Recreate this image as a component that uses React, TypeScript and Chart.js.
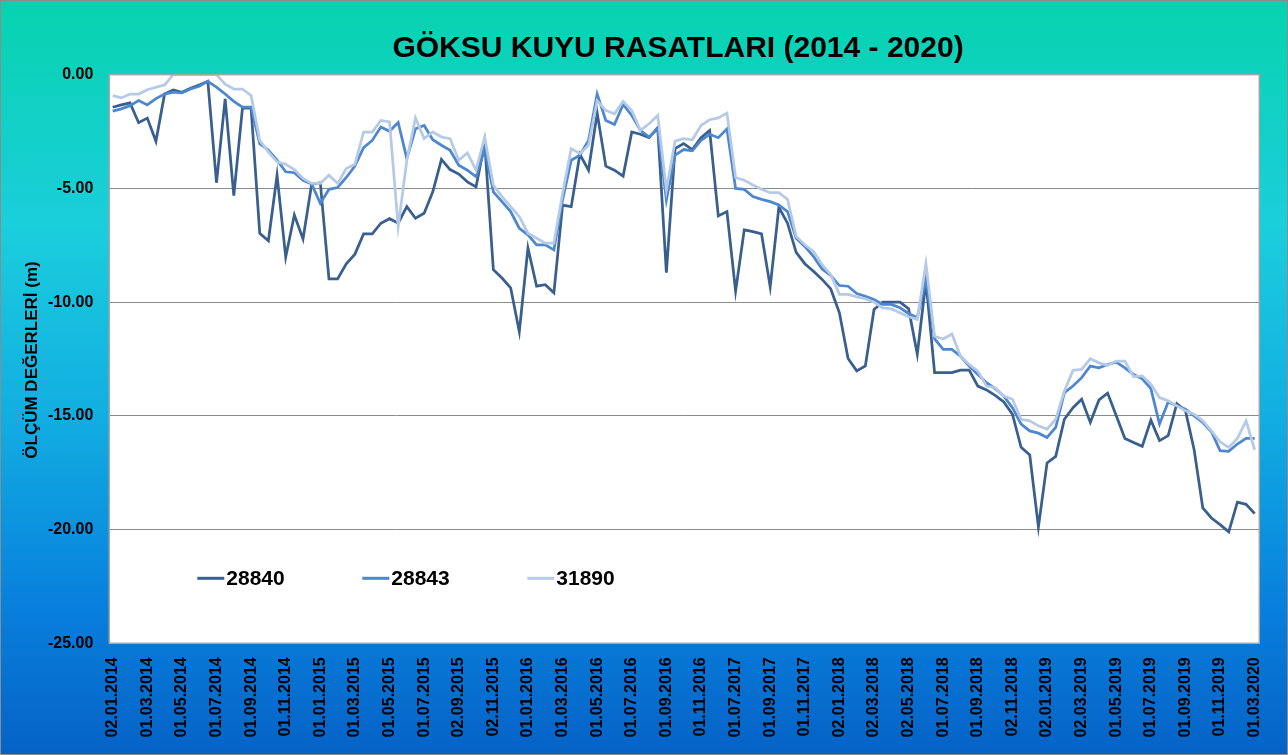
import { useEffect, useRef } from "react";
import { Chart, registerables } from "chart.js";

Chart.register(...registerables);

const chartTitle = "GÖKSU KUYU RASATLARI (2014 - 2020)";
const yAxisTitle = "ÖLÇÜM DEĞERLERİ (m)";

const tickLabels = [
  "02.01.2014", "01.03.2014", "01.05.2014", "01.07.2014", "01.09.2014", "01.11.2014",
  "01.01.2015", "01.03.2015", "01.05.2015", "01.07.2015", "02.09.2015", "02.11.2015",
  "01.01.2016", "01.03.2016", "01.05.2016", "01.07.2016", "01.09.2016", "01.11.2016",
  "01.07.2017", "01.09.2017", "01.11.2017", "02.01.2018", "02.03.2018", "02.05.2018",
  "01.07.2018", "01.09.2018", "02.11.2018", "02.01.2019", "02.03.2019", "01.05.2019",
  "01.07.2019", "01.09.2019", "01.11.2019", "01.03.2020",
];
const labelEvery = 4;

const seriesNames = ["28840", "28843", "31890"];
const seriesColors = ["#385F8E", "#4C87CF", "#B5CAE7"];

const series28840 = [
  -1.43, -1.33, -1.24, -2.11, -1.91, -2.93, -0.85, -0.67, -0.77, -0.6,
  -0.45, -0.29, -4.75, -1.06, -5.32, -1.47, -1.47, -6.97, -7.3, -4.42,
  -8.02, -6.17, -7.22, -4.81, -4.75, -8.98, -8.98, -8.31, -7.89, -7.0,
  -7.0, -6.53, -6.33, -6.53, -5.8, -6.31, -6.09, -5.15, -3.72, -4.17,
  -4.37, -4.71, -4.93, -3.0, -8.57, -8.94, -9.37, -11.3, -7.62, -9.3,
  -9.23, -9.59, -5.73, -5.8, -3.5, -4.2, -1.69, -4.02, -4.2, -4.46,
  -2.52, -2.62, -2.77, -2.33, -8.7, -3.25, -3.03, -3.29, -2.77, -2.45,
  -6.21, -6.02, -9.52, -6.82, -6.9, -7.0, -9.33, -5.83, -6.53, -7.81,
  -8.31, -8.64, -9.0, -9.42, -10.47, -12.48, -13.02, -12.8, -10.32, -10.0,
  -10.0, -10.0, -10.29, -12.29, -9.08, -13.1, -13.1, -13.1, -12.99, -12.99,
  -13.69, -13.86, -14.1, -14.39, -14.93, -16.38, -16.72, -19.88, -17.07, -16.78,
  -15.15, -14.64, -14.27, -15.29, -14.3, -14.0, -15.0, -15.99, -16.17, -16.34,
  -15.19, -16.09, -15.87, -14.46, -14.78, -16.49, -19.05, -19.49, -19.78, -20.1,
  -18.79, -18.89, -19.3,
];

const series28843 = [
  -1.6, -1.5, -1.36, -1.14, -1.33, -1.05, -0.85, -0.77, -0.8, -0.63,
  -0.51, -0.29, -0.55, -0.85, -1.17, -1.43, -1.43, -3.03, -3.32, -3.76,
  -4.27, -4.31, -4.64, -4.81, -5.66, -5.04, -4.96, -4.52, -4.02, -3.21,
  -2.89, -2.3, -2.49, -2.1, -3.69, -2.38, -2.23, -2.86, -3.1, -3.32,
  -3.98, -4.2, -4.49, -3.25, -5.15, -5.58, -6.02, -6.75, -7.04, -7.48,
  -7.48, -7.7, -5.51, -3.76, -3.54, -2.89, -0.85, -2.01, -2.19, -1.31,
  -1.79, -2.45, -2.74, -2.38, -5.51, -3.54, -3.29, -3.35, -2.89, -2.62,
  -2.77, -2.38, -5.0, -5.04, -5.36, -5.48, -5.58, -5.73, -6.02, -7.19,
  -7.55, -7.99, -8.54, -8.83, -9.27, -9.3, -9.62, -9.74, -9.88, -10.1,
  -10.1, -10.25, -10.5, -10.69, -9.0, -11.62, -12.08, -12.08, -12.38, -12.81,
  -13.18, -13.54, -13.8, -14.13, -14.64, -15.36, -15.66, -15.76, -15.95, -15.51,
  -13.98, -13.69, -13.32, -12.81, -12.89, -12.74, -12.64, -12.89, -13.18, -13.37,
  -13.8, -15.36, -14.39, -14.56, -14.71, -15.0, -15.29, -15.7, -16.53, -16.56,
  -16.24, -15.99, -15.99,
];

const series31890 = [
  -0.92, -1.02, -0.85, -0.85, -0.66, -0.55, -0.45, 0.0, 0.0, 0.0,
  0.0, 0.0, 0.0, -0.42, -0.63, -0.63, -0.92, -2.89, -3.4, -3.83,
  -3.94, -4.17, -4.56, -4.78, -4.78, -4.42, -4.78, -4.13, -3.94, -2.52,
  -2.52, -2.01, -2.08, -6.68, -3.76, -1.9, -2.81, -2.52, -2.74, -2.81,
  -3.76, -3.44, -4.2, -2.74, -4.85, -5.36, -5.8, -6.24, -6.97, -7.19,
  -7.41, -7.41, -5.22, -3.25, -3.47, -3.1, -1.14, -1.57, -1.72, -1.17,
  -1.57, -2.45, -2.16, -1.79, -5.07, -2.92, -2.81, -2.86, -2.23, -1.98,
  -1.9, -1.69, -4.52, -4.64, -4.85, -5.04, -5.19, -5.19, -5.48, -7.11,
  -7.48, -7.77, -8.35, -8.79, -9.66, -9.66, -9.77, -9.85, -10.0, -10.25,
  -10.29, -10.47, -10.64, -10.76, -8.31, -11.5, -11.62, -11.4, -12.38, -12.74,
  -13.03, -13.69, -13.76, -14.13, -14.27, -15.15, -15.22, -15.44, -15.58, -15.15,
  -13.91, -13.0, -12.96, -12.49, -12.67, -12.78, -12.59, -12.59, -13.28, -13.24,
  -13.61, -14.2, -14.34, -14.56, -14.78, -14.93, -15.22, -15.66, -16.14, -16.39,
  -15.99, -15.22, -16.49,
];

const allSeries = [series28840, series28843, series31890];

const W = 1288;
const H = 755;
const FONT = "'Liberation Sans', Arial, sans-serif";

export default function App() {
  const ref = useRef<HTMLCanvasElement | null>(null);

  useEffect(() => {
    document.body.style.margin = "0";
    const canvas = ref.current;
    if (!canvas) return;

    const decorPlugin = {
      id: "decor",
      beforeDraw(chart: any) {
        const { ctx, chartArea: a } = chart;
        ctx.save();
        const g = ctx.createLinearGradient(0, 0, 0, H);
        g.addColorStop(0, "#07D3AE");
        g.addColorStop(0.3, "#1BCEDC");
        g.addColorStop(0.55, "#12AEE2");
        g.addColorStop(0.8, "#0880DD");
        g.addColorStop(1, "#0562C6");
        ctx.fillStyle = g;
        ctx.fillRect(0, 0, W, H);
        ctx.fillStyle = "#ffffff";
        ctx.fillRect(a.left, a.top, a.right - a.left, a.bottom - a.top);
        ctx.restore();
      },
      afterDraw(chart: any) {
        const { ctx, chartArea: a } = chart;
        ctx.save();
        ctx.strokeStyle = "#A6A6A6";
        ctx.lineWidth = 1.5;
        ctx.strokeRect(a.left, a.top, a.right - a.left, a.bottom - a.top);
        ctx.strokeStyle = "#8C8C8C";
        ctx.lineWidth = 1;
        ctx.strokeRect(0.5, 0.5, W - 1, H - 1);
        ctx.fillStyle = "#000";
        ctx.font = `bold 30px ${FONT}`;
        ctx.textAlign = "center";
        ctx.textBaseline = "alphabetic";
        ctx.fillText(chartTitle, 678, 57);
        ctx.save();
        ctx.translate(32, 360);
        ctx.rotate(-Math.PI / 2);
        ctx.font = `bold 17px ${FONT}`;
        ctx.textAlign = "center";
        ctx.textBaseline = "middle";
        ctx.fillText(yAxisTitle, 0, 0);
        ctx.restore();
        const ly = a.bottom - 65;
        chart.data.datasets.forEach((ds: any, k: number) => {
          const lx = a.left + 88 + k * 165;
          ctx.strokeStyle = ds.borderColor;
          ctx.lineWidth = 3;
          ctx.beginPath();
          ctx.moveTo(lx, ly);
          ctx.lineTo(lx + 27, ly);
          ctx.stroke();
          ctx.fillStyle = "#000";
          ctx.font = `bold 21px ${FONT}`;
          ctx.textAlign = "left";
          ctx.textBaseline = "middle";
          ctx.fillText(ds.label, lx + 29, ly + 1);
        });
        ctx.restore();
      },
    };

    const lastIndex = series28840.length - 1;

    const chart = new Chart(canvas, {
      type: "line",
      data: {
        datasets: allSeries.map((s, k) => ({
          label: seriesNames[k],
          data: s.map((y, i) => ({ x: i, y })),
          borderColor: seriesColors[k],
          backgroundColor: seriesColors[k],
          borderWidth: 2.75,
          pointRadius: 0,
          tension: 0,
          fill: false,
          order: 3 - k,
        })),
      },
      options: {
        animation: false,
        responsive: false,
        devicePixelRatio: 1,
        layout: { padding: { top: 74.7, right: 25.3, left: 0, bottom: 0 } },
        plugins: {
          legend: { display: false },
          title: { display: false },
          tooltip: { enabled: false },
        },
        scales: {
          x: {
            type: "linear",
            min: -0.39,
            max: lastIndex + 0.53,
            afterBuildTicks: (s: any) => {
              s.ticks = tickLabels.map((_, k) => ({ value: k * labelEvery }));
            },
            afterFit: (s: any) => {
              s.height = 111.7;
            },
            grid: { display: false, drawTicks: false },
            border: { display: false },
            ticks: {
              autoSkip: false,
              minRotation: 90,
              maxRotation: 90,
              padding: 14,
              color: "#000",
              font: { family: FONT, size: 16, weight: "bold" },
              callback: (v: any) => tickLabels[Math.round(Number(v) / labelEvery)] ?? "",
            },
          },
          y: {
            min: -25,
            max: 0,
            afterFit: (s: any) => {
              s.width = 109.3;
            },
            grid: { color: "#8A8A8A", lineWidth: 1, drawTicks: false },
            border: { display: false },
            ticks: {
              stepSize: 5,
              padding: 16,
              color: "#000",
              font: { family: FONT, size: 16, weight: "bold" },
              callback: (v: any) => Number(v).toFixed(2),
            },
          },
        },
      },
      plugins: [decorPlugin],
    } as any);

    return () => chart.destroy();
  }, []);

  return (
    <div style={{ width: W, height: H }}>
      <canvas ref={ref} width={W} height={H} style={{ display: "block", width: W, height: H }} />
    </div>
  );
}
